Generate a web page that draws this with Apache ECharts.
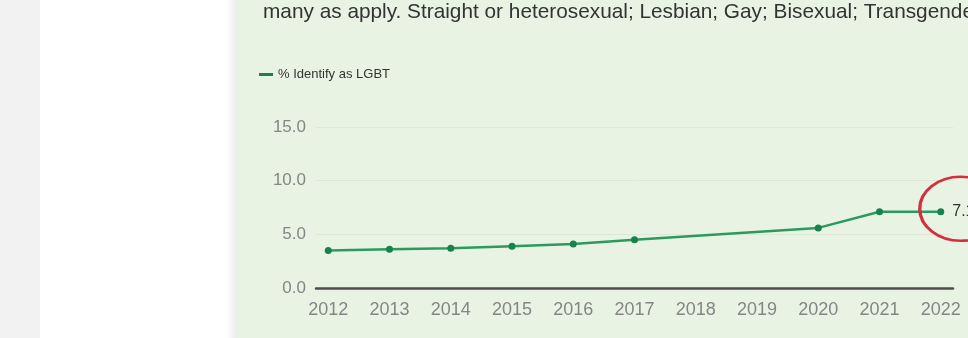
<!DOCTYPE html>
<html>
<head>
<meta charset="utf-8">
<script src="https://cdn.jsdelivr.net/npm/echarts@6/dist/echarts.min.js"></script>
<style>
  html, body { margin:0; padding:0; width:968px; height:338px; overflow:hidden; }
  body { background: linear-gradient(to right, #f2f2f2 0px, #f2f2f2 40px, #ffffff 40px, #ffffff 226px, #ededed 236px, #ededed 238px); }
  #chart { position:absolute; left:237px; top:0; width:731px; height:338px; background:#e8f3e3; }
</style>
</head>
<body>
<div id="chart"></div>
<script>
const subtitleText = "many as apply. Straight or heterosexual; Lesbian; Gay; Bisexual; Transgender";
const seriesName = "% Identify as LGBT";
const years = [2012, 2013, 2014, 2015, 2016, 2017, 2018, 2019, 2020, 2021, 2022];
const lgbtPct = [3.5, 3.6, 3.7, 3.9, 4.1, 4.5, null, null, 5.6, 7.1, 7.1];
const yTicks = [0, 5, 10, 15];

const chart = echarts.init(document.getElementById('chart'));
const last = years.length - 1;
const seriesData = years.map((y, i) => {
  const item = { value: [y, lgbtPct[i]] };
  if (i === last) {
    item.label = { show: true, position: 'right', distance: 8, formatter: p => p.value[1].toFixed(1), color: '#333', fontSize: 16, fontFamily: 'Liberation Sans' };
  }
  return item;
});

chart.setOption({
  animation: false,
  title: {
    text: subtitleText,
    left: 21, top: -3,
    textStyle: { fontSize: 20.8, fontWeight: 'normal', color: '#333', fontFamily: 'Liberation Sans' }
  },
  legend: {
    left: 17, top: 63,
    icon: 'rect', itemWidth: 14, itemHeight: 3, itemGap: 6,
    textStyle: { fontSize: 13, color: '#333', fontFamily: 'Liberation Sans' },
    data: [seriesName]
  },
  grid: { left: 79, right: 15, top: 127, bottom: 50 },
  xAxis: {
    type: 'value', min: 2011.8, max: 2022.2,
    splitLine: { show: false },
    axisLine: { show: true, lineStyle: { color: '#4d4d4d', width: 2.5 } },
    axisTick: { show: false },
    axisLabel: { customValues: years, formatter: v => String(v), color: '#858585', fontSize: 18, margin: 13, fontFamily: 'Liberation Sans' }
  },
  yAxis: {
    type: 'value', min: 0, max: 15, interval: 5,
    axisLine: { show: false }, axisTick: { show: false },
    splitLine: { lineStyle: { color: '#dde8d8', width: 1 } },
    axisLabel: { customValues: yTicks, formatter: v => v.toFixed(1), color: '#858585', fontSize: 17, margin: 10, fontFamily: 'Liberation Sans' }
  },
  series: [{
    name: seriesName,
    type: 'line',
    data: seriesData,
    connectNulls: true,
    symbol: 'circle', symbolSize: 7,
    lineStyle: { color: '#2c9a60', width: 2.5 },
    itemStyle: { color: '#17824c' },
    markPoint: {
      symbol: 'circle',
      symbolSize: [82, 64],
      symbolOffset: [20, -3],
      silent: true,
      label: { show: false },
      itemStyle: { color: 'rgba(0,0,0,0)', borderColor: '#d4303c', borderWidth: 3 },
      data: [{ coord: [years[last], lgbtPct[last]] }]
    }
  }]
});
</script>
</body>
</html>
